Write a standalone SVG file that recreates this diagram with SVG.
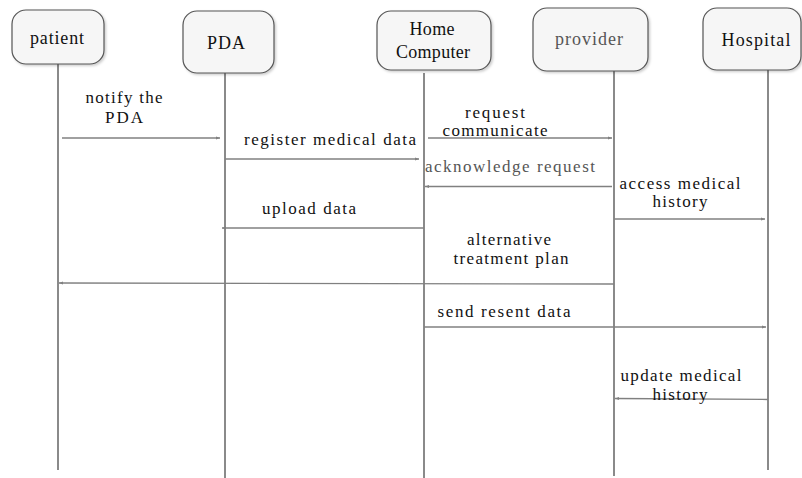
<svg xmlns="http://www.w3.org/2000/svg" width="802" height="478" viewBox="0 0 802 478">
<style>
.box{fill:#f6f6f6;stroke:#555;stroke-width:1.2}
.life{stroke:#8a8a8a;stroke-width:2}
.msg{stroke:#808080;stroke-width:1.3;fill:none;marker-end:url(#ah)}
text{font-family:"Liberation Serif","Times New Roman",serif;font-size:17px;fill:#111;text-anchor:middle}
.nm{font-size:18px}
.gray{fill:#555}
</style>
<defs>
<marker id="ah" viewBox="0 0 4 4" refX="4" refY="2" markerWidth="4" markerHeight="4" markerUnits="userSpaceOnUse" orient="auto">
<path d="M0,0.5 L4,2 L0,3.5 Z" fill="#808080"/>
</marker>
<filter id="sh" x="-10%" y="-10%" width="130%" height="130%">
<feDropShadow dx="1.5" dy="1.5" stdDeviation="1" flood-color="#000" flood-opacity="0.2"/>
</filter>
</defs>
<g id="lifelines">
<line class="life" x1="58" y1="64" x2="58" y2="470"/>
<line class="life" x1="225" y1="73" x2="225" y2="478"/>
<line class="life" x1="424" y1="73" x2="424" y2="478"/>
<line class="life" x1="614" y1="71" x2="614" y2="476"/>
<line class="life" x1="768" y1="70" x2="768" y2="470"/>
</g>
<g id="patient"><rect class="box" filter="url(#sh)" x="12" y="10" width="92" height="54" rx="14"/><text class="nm" x="57" y="44" textLength="54" lengthAdjust="spacing">patient</text></g>
<g id="pda"><rect class="box" filter="url(#sh)" x="183" y="11" width="91" height="62" rx="14"/><text class="nm" x="226" y="49" textLength="38" lengthAdjust="spacing">PDA</text></g>
<g id="home"><rect class="box" filter="url(#sh)" x="377" y="11" width="114" height="59" rx="14"/><text class="nm" x="432" y="35" textLength="45" lengthAdjust="spacing">Home</text><text class="nm" x="433" y="58" textLength="74" lengthAdjust="spacing">Computer</text></g>
<g id="provider"><rect class="box" filter="url(#sh)" x="533" y="8" width="115" height="63" rx="14"/><text class="nm gray" x="589" y="45" textLength="68" lengthAdjust="spacing">provider</text></g>
<g id="hospital"><rect class="box" filter="url(#sh)" x="703" y="8" width="98" height="62" rx="14"/><text class="nm" x="756" y="46" textLength="69" lengthAdjust="spacing">Hospital</text></g>
<g id="connectors">
<line class="msg" x1="62" y1="138" x2="220" y2="138"/>
<line class="msg" x1="225" y1="159" x2="419" y2="159"/>
<line class="msg" x1="428" y1="138" x2="612" y2="138"/>
<line class="msg" x1="612" y1="186.5" x2="425" y2="186.5"/>
<line class="msg" x1="614" y1="219" x2="765" y2="219"/>
<line class="msg" x1="424" y1="228" x2="222" y2="228"/>
<line class="msg" x1="614" y1="284" x2="59" y2="283"/>
<line class="msg" x1="424" y1="327" x2="766" y2="327"/>
<line class="msg" x1="768" y1="399.5" x2="615" y2="398.5"/>
</g>
<g id="labels">
<text x="124" y="103" textLength="77" lengthAdjust="spacing">notify the</text><text x="124" y="123" textLength="38" lengthAdjust="spacing">PDA</text>
<text x="330" y="145" textLength="172" lengthAdjust="spacing">register medical data</text>
<text x="495" y="118" textLength="60" lengthAdjust="spacing">request</text><text x="495" y="136" textLength="105" lengthAdjust="spacing">communicate</text>
<text class="gray" x="510" y="172" textLength="170" lengthAdjust="spacing">acknowledge request</text>
<text x="680" y="189" textLength="121" lengthAdjust="spacing">access medical</text><text x="680" y="207" textLength="55" lengthAdjust="spacing">history</text>
<text x="309" y="214" textLength="94" lengthAdjust="spacing">upload data</text>
<text x="509" y="245" textLength="84" lengthAdjust="spacing">alternative</text><text x="511" y="264" textLength="115" lengthAdjust="spacing">treatment plan</text>
<text x="504" y="317" textLength="133" lengthAdjust="spacing">send resent data</text>
<text x="681" y="381" textLength="121" lengthAdjust="spacing">update medical</text><text x="680" y="400" textLength="55" lengthAdjust="spacing">history</text>
</g>
</svg>
